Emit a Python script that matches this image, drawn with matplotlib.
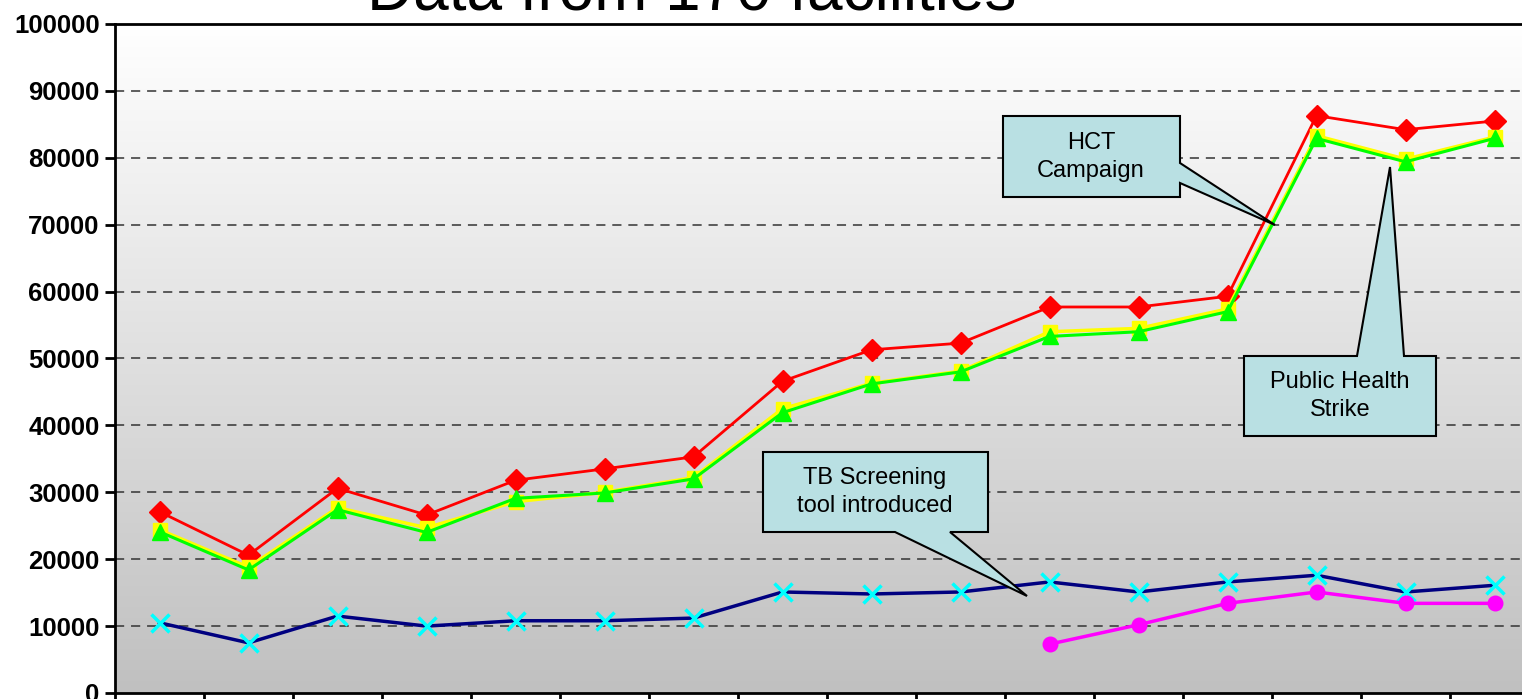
import numpy as np
import matplotlib
matplotlib.use("Agg")
import matplotlib.pyplot as plt
from matplotlib.patches import Polygon
from matplotlib.colors import LinearSegmentedColormap

plt.rcParams['font.family'] = ['Liberation Sans', 'DejaVu Sans']

# ---- data ----
periods = list(range(16))
series_red = [27100, 20600, 30600, 26600, 31800, 33500, 35300, 46600,
              51300, 52300, 57700, 57700, 59300, 86300, 84200, 85500]
series_yellow = [24400, 18800, 27700, 24700, 28600, 30000, 32200, 42500,
                 46300, 48100, 54000, 54500, 57400, 83300, 79800, 83100]
series_green = [24100, 18400, 27400, 24000, 29100, 29900, 32000, 41900,
                46200, 48000, 53300, 54000, 57000, 82900, 79400, 82900]
series_navy = [10500, 7500, 11500, 10000, 10800, 10800, 11200, 15100,
               14800, 15100, 16600, 15100, 16600, 17600, 15100, 16100]
magenta_periods = [10, 11, 12, 13, 14, 15]
series_magenta = [7300, 10200, 13400, 15100, 13400, 13400]
y_ticks = list(range(0, 100001, 10000))
title_text = "Data from 170 facilities"

# ---- layout (pixels) ----
W, H = 1522, 699
AX_L, AX_TOP, AX_BOT, CAT_W = 115, 24, 693, 89
n = len(periods)

fig = plt.figure(figsize=(W / 100, H / 100), dpi=100)
fig.patch.set_facecolor('white')
ax = fig.add_axes([AX_L / W, (H - AX_BOT) / H, n * CAT_W / W, (AX_BOT - AX_TOP) / H])
ax.set_xlim(-0.5, n - 0.5)
ax.set_ylim(0, 100000)


def px(x, y):
    """Convert figure pixel position to data coordinates."""
    return ((x - AX_L) / CAT_W - 0.5, (AX_BOT - y) / (AX_BOT - AX_TOP) * 100000)


# gradient background
cmap = LinearSegmentedColormap.from_list('bg', ['#c0c0c0', '#ffffff'])
grad = np.linspace(0, 1, 256).reshape(-1, 1)
ax.imshow(grad, cmap=cmap, aspect='auto', origin='lower',
          extent=[-0.5, n - 0.5, 0, 100000], zorder=0)

# grid
for v in y_ticks[1:-1]:
    ax.axhline(v, color='#333333', lw=1.1, ls=(0, (6, 4.5)), zorder=1)

# series
ax.plot(periods, series_red, color='#ff0000', lw=2, marker='D', ms=11,
        mfc='#ff0000', mec='#ff0000', zorder=3)
ax.plot(periods, series_yellow, color='#ffff00', lw=2.5, marker='s', ms=10,
        mfc='#ffff00', mec='#ffff00', zorder=3)
ax.plot(periods, series_green, color='#00ff00', lw=2.2, marker='^', ms=12,
        mfc='#00ff00', mec='#00ff00', zorder=4)
ax.plot(periods, series_navy, color='#000080', lw=2.5, marker='x', ms=13,
        mew=2.5, mec='#00ffff', zorder=3)
ax.plot(magenta_periods, series_magenta, color='#ff00ff', lw=2.5, marker='o',
        ms=10.5, mfc='#ff00ff', mec='#ff00ff', zorder=3)

# callouts
callouts = [
    ([(1003, 116), (1180, 116), (1180, 163), (1275, 225), (1180, 183),
      (1180, 197), (1003, 197)], (1091, 157), "HCT\nCampaign"),
    ([(1244, 356), (1357, 356), (1390, 167), (1404, 356), (1436, 356),
      (1436, 436), (1244, 436)], (1340, 396), "Public Health\nStrike"),
    ([(763, 452), (988, 452), (988, 532), (950, 532), (1027, 596),
      (895, 532), (763, 532)], (875, 492), "TB Screening\ntool introduced"),
]
for verts, center, label in callouts:
    poly = Polygon([px(x, y) for x, y in verts], closed=True,
                   facecolor='#b9e0e3', edgecolor='black', lw=1.5, zorder=5)
    ax.add_patch(poly)
    cx, cy = px(*center)
    ax.text(cx, cy, label, ha='center', va='center', fontsize=17,
            linespacing=1.3, zorder=6)

# axes styling
for side in ['left', 'top', 'bottom', 'right']:
    ax.spines[side].set_linewidth(2)
    ax.spines[side].set_color('black')
    ax.spines[side].set_zorder(7)

ax.set_yticks(y_ticks)
ax.set_yticklabels([str(v) for v in y_ticks], fontsize=18.5, fontweight='bold')
ax.set_xticks(np.arange(-0.5, n, 1.0))
ax.set_xticklabels([])
ax.tick_params(axis='both', direction='out', length=7, width=2, pad=4)

fig.text(692 / W, 1 - 10 / H, title_text, ha='center', va='baseline',
         fontsize=46)

fig.savefig('out.png', dpi=100)
